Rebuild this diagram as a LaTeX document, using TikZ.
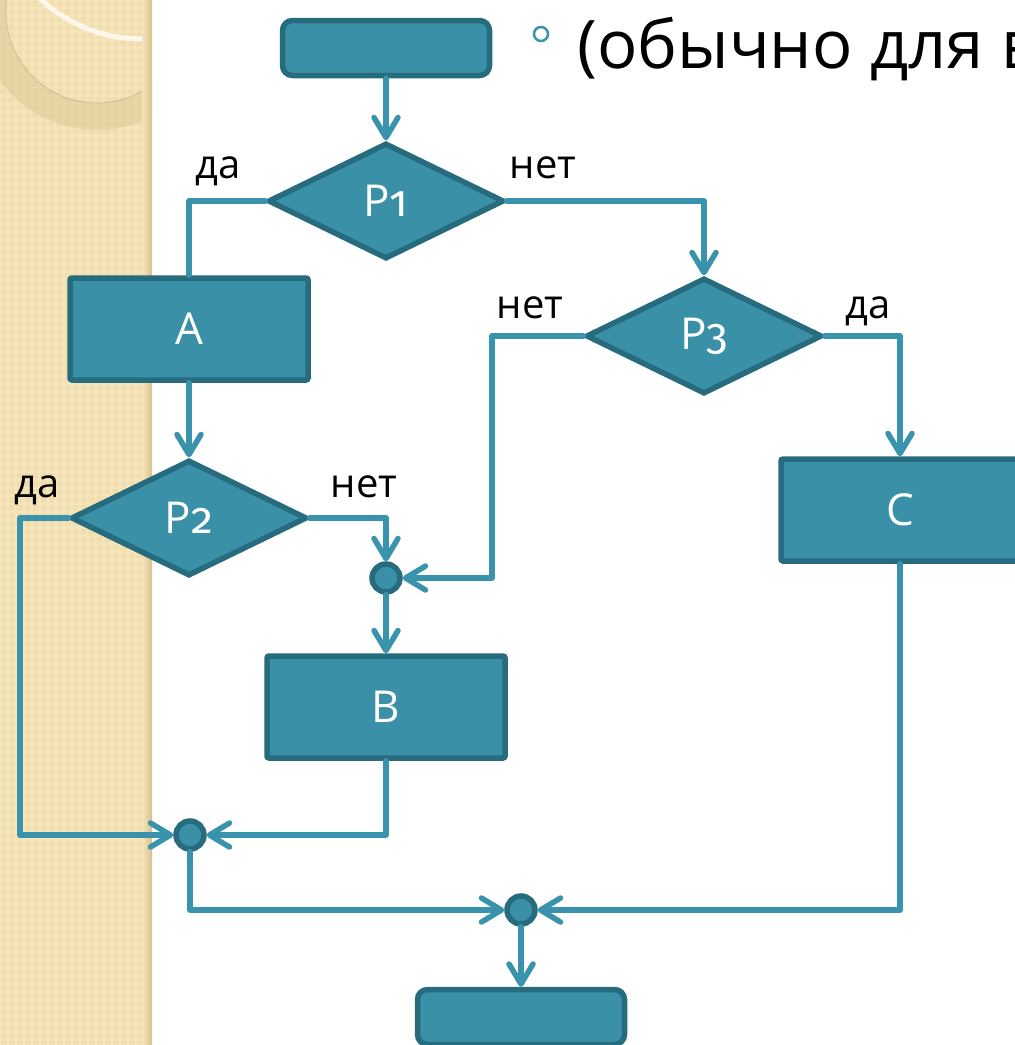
\documentclass[tikz,border=0pt]{standalone}
\usepackage{fontspec}
\setmainfont{Open Sans}
\newfontfamily\osnum[Numbers=OldStyle]{Fira Sans}
\usetikzlibrary{shapes.geometric,arrows.meta}
\definecolor{tealfill}{RGB}{58,144,167}
\definecolor{tealdark}{RGB}{39,107,126}
\definecolor{conncol}{RGB}{58,147,172}
\definecolor{beige}{RGB}{246,229,186}
\definecolor{beigedark}{RGB}{238,218,170}
\definecolor{tan}{RGB}{214,192,140}
\tikzset{
  shapebase/.style={fill=tealfill, draw=tealdark, line width=5.5pt, text=white, font=\fontsize{44}{48}\selectfont, inner sep=0pt},
  procbox/.style={shapebase, rectangle, rounded corners=2pt, minimum width=238pt, minimum height=102pt},
  termbox/.style={shapebase, rectangle, rounded corners=10pt, minimum width=207pt, minimum height=55pt},
  decbox/.style={shapebase, diamond, aspect=2, minimum width=236pt, minimum height=116pt},
  junc/.style={shapebase, circle, minimum size=28pt},
  conn/.style={draw=conncol, line width=5.5pt, line cap=round, line join=round},
  arr/.style={conn, -{Straight Barb[length=20pt,width=24pt,round]}},
  lbl/.style={font=\fontsize{40}{44}\selectfont, text=black, inner sep=0pt, anchor=base},
}
\begin{document}
\begin{tikzpicture}[x=1pt,y=-1pt]
\useasboundingbox (0,0) rectangle (1015,1045);
\fill[white] (0,0) rectangle (1015,1045);
% decorative left strip
\begin{scope}
\clip (0,0) rectangle (152,1045);
\fill[beige] (0,0) rectangle (152,1045);
\fill[beigedark] foreach \i in {0,...,18} {foreach \j in {0,...,130} {(8*\i+1,8*\j+1) rectangle ++(5,5)}};
\fill[beige] foreach \i in {0,...,18} {foreach \j in {0,...,130} {(8*\i+2.5,8*\j+2.5) rectangle ++(2,2)}};
\fill[tan, opacity=0.4, even odd rule] (97,10) circle[radius=118] (97,12) circle[radius=91];
\draw[tan!80!black, opacity=0.35, line width=1pt] (97,12) circle[radius=91];
\draw[tan, opacity=0.35, line width=2pt] (97,10) circle[radius=119];
\draw[white!70!beige, line width=5pt] (142,-110) circle[radius=149];
\shade[left color=beige, right color=tan] (142,0) rectangle (152,1045);
\end{scope}
% title line
\node[circle, draw=conncol, line width=2.5pt, minimum size=14pt, inner sep=0pt] (bul) at (541,34) {};
\node[font=\fontsize{67}{70}\selectfont, anchor=base west, inner sep=0pt] (title) at (577,68) {(обычно для в};
% nodes
\node[termbox] (S) at (386,48) {};
\node[decbox] (P1) at (386,201) {P\osnum 1};
\node[procbox] (A) at (189,329) {A};
\node[decbox] (P3) at (704,336) {P\osnum 3};
\node[decbox] (P2) at (189,518) {P\osnum 2};
\node[procbox] (C) at (900,510) {C};
\node[junc] (J1) at (386,578) {};
\node[procbox] (B) at (386,707) {B};
\node[junc] (J2) at (190,835) {};
\node[junc] (J3) at (521,910) {};
\node[termbox] (E) at (521,1017) {};
% labels
\node[lbl] (l1) at (218,178) {да};
\node[lbl] (l2) at (543,178) {нет};
\node[lbl] (l3) at (530,318) {нет};
\node[lbl] (l4) at (868,318) {да};
\node[lbl] (l5) at (37,497) {да};
\node[lbl] (l6) at (364,497) {нет};
% helper coordinates
\coordinate (p2l) at (20,518);
\coordinate (p3l) at (492,336);
% connectors
\draw[arr] (S.south) -- (P1.north);
\draw[conn] (P1.west) -| (A.north);
\draw[arr] (P1.east) -| (P3.north);
\draw[arr] (A.south) -- (P2.north);
\draw[arr] (P2.west) -- (p2l) |- (J2.west);
\draw[arr] (P2.east) -| (J1.north);
\draw[arr] (P3.west) -- (p3l) |- (J1.east);
\draw[arr] (P3.east) -| (C.north);
\draw[arr] (J1.south) -- (B.north);
\draw[arr] (B.south) |- (J2.east);
\draw[arr] (J2.south) |- (J3.west);
\draw[arr] (C.south) |- (J3.east);
\draw[arr] (J3.south) -- (E.north);
\end{tikzpicture}
\end{document}
